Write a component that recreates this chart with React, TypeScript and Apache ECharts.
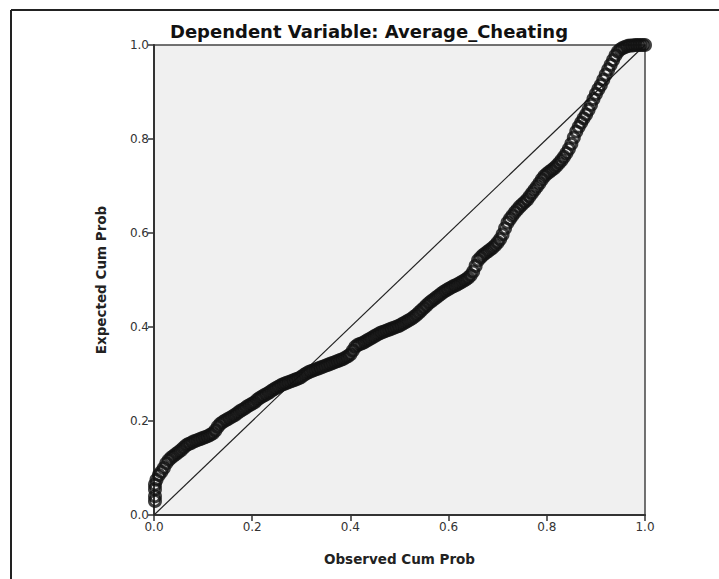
import React, { useEffect, useRef } from "react";
import * as echarts from "echarts";

const titleText = "Dependent Variable: Average_Cheating";
const xAxisName = "Observed Cum Prob";
const yAxisName = "Expected Cum Prob";

// Observed cumulative probability (x) and expected cumulative probability (y)
const observed: number[] = [
  0.002, 0.002, 0.002, 0.002, 0.005, 0.01, 0.015, 0.02, 0.025, 0.03, 0.035, 0.04, 0.045, 0.05,
  0.055, 0.06, 0.065, 0.07, 0.075, 0.08, 0.085, 0.09, 0.095, 0.1, 0.105, 0.11, 0.115, 0.12,
  0.125, 0.13, 0.135, 0.14, 0.145, 0.15, 0.155, 0.16, 0.165, 0.17, 0.175, 0.18, 0.185, 0.19,
  0.195, 0.2, 0.205, 0.21, 0.215, 0.22, 0.225, 0.23, 0.235, 0.24, 0.245, 0.25, 0.255, 0.26,
  0.265, 0.27, 0.275, 0.28, 0.285, 0.29, 0.295, 0.3, 0.305, 0.31, 0.315, 0.32, 0.325, 0.33,
  0.335, 0.34, 0.345, 0.35, 0.355, 0.36, 0.365, 0.37, 0.375, 0.38, 0.385, 0.39, 0.395, 0.4,
  0.405, 0.41, 0.415, 0.42, 0.425, 0.43, 0.435, 0.44, 0.445, 0.45, 0.455, 0.46, 0.465, 0.47,
  0.475, 0.48, 0.485, 0.49, 0.495, 0.5, 0.505, 0.51, 0.515, 0.52, 0.525, 0.53, 0.535, 0.54,
  0.545, 0.55, 0.555, 0.56, 0.565, 0.57, 0.575, 0.58, 0.585, 0.59, 0.595, 0.6, 0.605, 0.61,
  0.615, 0.62, 0.625, 0.63, 0.635, 0.64, 0.645, 0.65, 0.655, 0.66, 0.665, 0.67, 0.675, 0.68,
  0.685, 0.69, 0.695, 0.7, 0.705, 0.71, 0.715, 0.72, 0.725, 0.73, 0.735, 0.74, 0.745, 0.75,
  0.755, 0.76, 0.765, 0.77, 0.775, 0.78, 0.785, 0.79, 0.795, 0.8, 0.805, 0.81, 0.815, 0.82,
  0.825, 0.83, 0.835, 0.84, 0.845, 0.85, 0.855, 0.86, 0.865, 0.87, 0.875, 0.88, 0.885, 0.89,
  0.895, 0.9, 0.905, 0.91, 0.915, 0.92, 0.925, 0.93, 0.935, 0.94, 0.945, 0.95, 0.955, 0.96,
  0.965, 0.97, 0.975, 0.98, 0.985, 0.99, 0.995, 1.0,
];

const expected: number[] = [
  0.03, 0.04, 0.055, 0.065, 0.075, 0.085, 0.092, 0.1, 0.11, 0.117, 0.122, 0.126, 0.13, 0.134,
  0.138, 0.143, 0.148, 0.151, 0.153, 0.156, 0.158, 0.16, 0.162, 0.164, 0.166, 0.168, 0.171, 0.174,
  0.18, 0.188, 0.194, 0.198, 0.201, 0.204, 0.207, 0.21, 0.213, 0.217, 0.221, 0.224, 0.227, 0.231,
  0.234, 0.237, 0.24, 0.245, 0.249, 0.252, 0.255, 0.258, 0.261, 0.265, 0.268, 0.271, 0.274, 0.277,
  0.279, 0.281, 0.283, 0.285, 0.287, 0.289, 0.291, 0.294, 0.298, 0.301, 0.304, 0.306, 0.308, 0.31,
  0.312, 0.314, 0.316, 0.318, 0.32, 0.322, 0.324, 0.326, 0.328, 0.33, 0.332, 0.335, 0.338, 0.342,
  0.35, 0.358, 0.362, 0.364, 0.366, 0.369, 0.372, 0.375, 0.378, 0.381, 0.384, 0.387, 0.389, 0.391,
  0.393, 0.395, 0.397, 0.399, 0.401, 0.403, 0.406, 0.409, 0.412, 0.415, 0.418, 0.422, 0.426, 0.431,
  0.436, 0.441, 0.446, 0.451, 0.455, 0.459, 0.463, 0.467, 0.471, 0.475, 0.478, 0.481, 0.484, 0.487,
  0.489, 0.492, 0.495, 0.498, 0.501, 0.505, 0.51, 0.518, 0.53, 0.542, 0.548, 0.553, 0.557, 0.561,
  0.565, 0.569, 0.574, 0.58, 0.587, 0.597, 0.61, 0.622, 0.63, 0.637, 0.644, 0.65, 0.656, 0.661,
  0.666, 0.671, 0.678, 0.685, 0.692, 0.699, 0.706, 0.714, 0.721, 0.726, 0.73, 0.734, 0.738, 0.743,
  0.749, 0.755, 0.762, 0.77, 0.779, 0.79, 0.803, 0.816, 0.826, 0.835, 0.844, 0.852, 0.862, 0.873,
  0.885, 0.896, 0.906, 0.915, 0.926, 0.937, 0.948, 0.958, 0.968, 0.978, 0.986, 0.991, 0.994, 0.996,
  0.998, 0.999, 0.999, 1.0, 1.0, 1.0, 1.0, 1.0,
];

const referenceLine: number[][] = [
  [0, 0],
  [1, 1],
];

const axisMin = 0;
const axisMax = 1;
const axisStep = 0.2;

export default function App() {
  const ref = useRef<HTMLDivElement>(null);

  useEffect(() => {
    if (!ref.current) return;
    const chart = echarts.init(ref.current, null, { renderer: "svg" });
    const points = observed.map((x, i) => [x, expected[i]]);
    const labelStyle = {
      color: "#333",
      fontFamily: "DejaVu Sans",
      fontSize: 12,
      formatter: (v: number) => v.toFixed(1),
    };
    const nameStyle = {
      fontFamily: "DejaVu Sans",
      fontWeight: "bold",
      fontSize: 13.5,
      color: "#222",
    };
    chart.setOption({
      animation: false,
      backgroundColor: "#ffffff",
      title: {
        text: titleText,
        left: 364,
        top: 17,
        textAlign: "center",
        textStyle: {
          fontFamily: "DejaVu Sans",
          fontWeight: "bold",
          fontSize: 18,
          color: "#111",
        },
      },
      grid: {
        left: 154,
        right: 74,
        top: 45,
        bottom: 64,
        show: true,
        backgroundColor: "#f0f0f0",
        borderColor: "#444",
        borderWidth: 1.5,
      },
      xAxis: {
        type: "value",
        min: axisMin,
        max: axisMax,
        interval: axisStep,
        name: xAxisName,
        nameLocation: "middle",
        nameGap: 37,
        nameTextStyle: nameStyle,
        axisLine: { show: true, onZero: false, lineStyle: { color: "#333", width: 2 } },
        axisTick: { show: true, inside: false, length: 6, lineStyle: { color: "#333", width: 1.5 } },
        axisLabel: { ...labelStyle, margin: 6 },
        splitLine: { show: false },
      },
      yAxis: {
        type: "value",
        min: axisMin,
        max: axisMax,
        interval: axisStep,
        name: yAxisName,
        nameLocation: "middle",
        nameGap: 46,
        nameTextStyle: nameStyle,
        axisLine: { show: true, onZero: false, lineStyle: { color: "#333", width: 2 } },
        axisTick: { show: true, inside: false, length: 6, lineStyle: { color: "#333", width: 1.5 } },
        axisLabel: { ...labelStyle, margin: 5 },
        splitLine: { show: false },
      },
      graphic: [
        {
          type: "line",
          shape: { x1: 11, y1: 10, x2: 719, y2: 10 },
          style: { stroke: "#222", lineWidth: 2 },
        },
        {
          type: "line",
          shape: { x1: 11, y1: 10, x2: 11, y2: 579 },
          style: { stroke: "#222", lineWidth: 2 },
        },
      ],
      series: [
        {
          type: "line",
          data: referenceLine,
          symbol: "none",
          lineStyle: { color: "#222", width: 1.2 },
          silent: true,
          z: 1,
        },
        {
          type: "scatter",
          data: points,
          symbol: "circle",
          symbolSize: 11,
          itemStyle: {
            color: "rgba(0,0,0,0)",
            borderColor: "#111",
            borderWidth: 3,
          },
          z: 2,
        },
      ],
    });
    return () => chart.dispose();
  }, []);

  return (
    <div
      ref={ref}
      style={{ position: "fixed", left: 0, top: 0, width: 719, height: 579 }}
    />
  );
}
